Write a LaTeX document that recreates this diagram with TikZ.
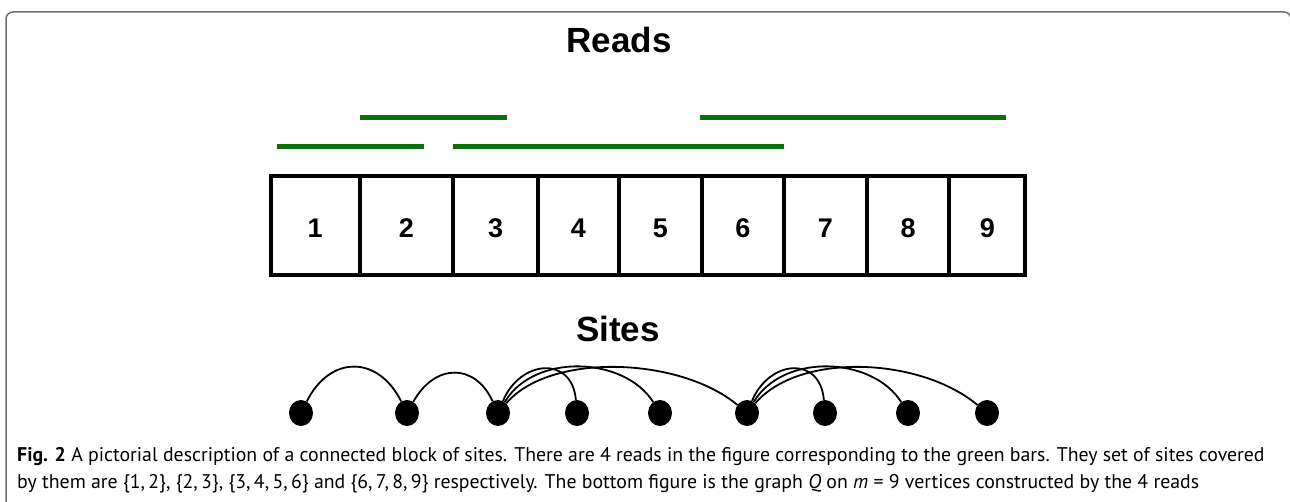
\documentclass[tikz,border=0pt]{standalone}
\usepackage{fontspec}
\setmainfont{Liberation Sans}
\newfontfamily\capfont{PT Sans}
\usetikzlibrary{shapes.geometric}
\definecolor{readgreen}{RGB}{10,112,10}
\definecolor{framegray}{RGB}{110,110,110}
\tikzset{
  cell/.style={draw, line width=4pt, minimum height=99pt, inner sep=0pt, text height=23.3pt, text depth=0pt, font=\bfseries\fontsize{27}{27}\selectfont},
  site/.style={ellipse, fill=black, minimum width=24pt, minimum height=26pt, inner sep=0pt},
  edge/.style={line width=1.8pt},
  readbar/.style={draw=readgreen, line width=5pt},
  title/.style={font=\bfseries\fontsize{35}{35}\selectfont, anchor=base, inner sep=0pt},
  captext/.style={font=\capfont\fontsize{19.8}{19.8}\selectfont, anchor=base west, inner sep=0pt}
}
\begin{document}
\begin{tikzpicture}[x=1pt,y=-1pt]
\useasboundingbox (0,0) rectangle (1290,502);
\fill[white] (0,0) rectangle (1290,502);
% frame
\draw[framegray, line width=1.5pt, rounded corners=7pt] (6,560) -- (6,12) -- (1291,12) -- (1291,560);
% titles
\node[title] (reads) at (619,53) {Reads};
\node[title] (sites) at (618,342) {Sites};
% reads
\draw[readbar] (277,147) -- (424,147);
\draw[readbar] (359.5,118) -- (506.6,118);
\draw[readbar] (453.2,147) -- (784.3,147);
\draw[readbar] (700.1,118) -- (1006,118);
% cells
\node[cell, minimum width=89.2pt] (c1) at (315.1,225.5) {1};
\node[cell, minimum width=93.6pt] (c2) at (406.5,225.5) {2};
\node[cell, minimum width=84.7pt] (c3) at (495.65,225.5) {3};
\node[cell, minimum width=81pt] (c4) at (578.5,225.5) {4};
\node[cell, minimum width=82.6pt] (c5) at (660.3,225.5) {5};
\node[cell, minimum width=82.4pt] (c6) at (742.8,225.5) {6};
\node[cell, minimum width=82.7pt] (c7) at (825.35,225.5) {7};
\node[cell, minimum width=82.6pt] (c8) at (908,225.5) {8};
\node[cell, minimum width=76.1pt] (c9) at (987.35,225.5) {9};
% sites
\node[site] (d1) at (301,413) {};
\node[site] (d2) at (407,413) {};
\node[site] (d3) at (498,413) {};
\node[site] (d4) at (577,413) {};
\node[site] (d5) at (660,413) {};
\node[site] (d6) at (747,413) {};
\node[site] (d7) at (825,413) {};
\node[site] (d8) at (908,413) {};
\node[site] (d9) at (987,413) {};
% edges
\draw[edge] (d1) .. controls +(29,-58) and +(-29,-58) .. (d2);
\draw[edge] (d2) .. controls +(28,-50) and +(-23,-50) .. (d3);
\draw[edge] (d3) .. controls +(22,-53) and +(-5,-58) .. (d4);
\draw[edge] (d3) .. controls +(37,-61) and +(-35,-56) .. (d5);
\draw[edge] (d3) .. controls +(52,-61) and +(-67,-56) .. (d6);
\draw[edge] (d6) .. controls +(22,-53) and +(-5,-58) .. (d7);
\draw[edge] (d6) .. controls +(37,-61) and +(-35,-56) .. (d8);
\draw[edge] (d6) .. controls +(52,-61) and +(-67,-56) .. (d9);
% caption
\node[captext] (cap1) at (17,461) {\textbf{Fig. 2} A pictorial description of a connected block of sites. There are 4 reads in the figure corresponding to the green bars. They set of sites covered};
\node[captext] (cap2) at (17,488.5) {by them are \{1,\,2\}, \{2,\,3\}, \{3,\,4,\,5,\,6\} and \{6,\,7,\,8,\,9\} respectively. The bottom figure is the graph \textit{Q} on \textit{m} = 9 vertices constructed by the 4 reads};
\end{tikzpicture}
\end{document}
